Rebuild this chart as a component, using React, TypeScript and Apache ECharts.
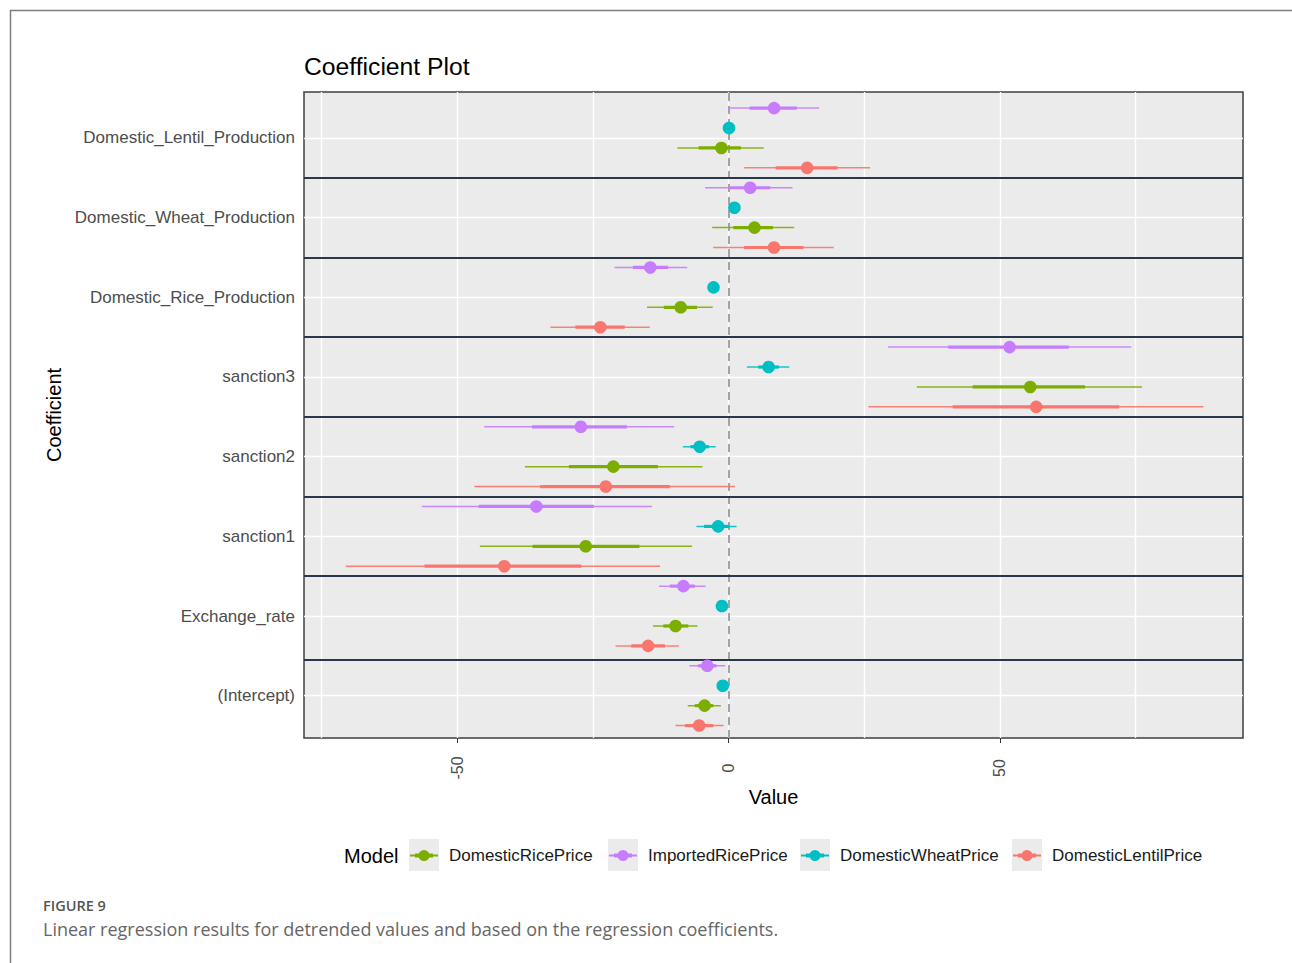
import React, { useEffect, useRef } from "react";
import * as echarts from "echarts";

// ---------- data ----------
const categories = [
  "(Intercept)",
  "Exchange_rate",
  "sanction1",
  "sanction2",
  "sanction3",
  "Domestic_Rice_Production",
  "Domestic_Wheat_Production",
  "Domestic_Lentil_Production",
];

const models = ["DomesticRicePrice", "ImportedRicePrice", "DomesticWheatPrice", "DomesticLentilPrice"];
const modelColors = ["#7CAE00", "#C77CFF", "#00BFC4", "#F8766D"];
const modelOffsets = [-0.125, 0.375, 0.125, -0.375];

// estimates, outer interval (thin), inner interval (thick) — order follows categories
const riceEst = [-4.4, -9.75, -26.3, -21.2, 55.6, -8.8, 4.8, -1.3];
const riceLo95 = [-7.5, -13.9, -45.8, -37.5, 34.7, -15.0, -3.0, -9.4];
const riceHi95 = [-1.4, -5.7, -6.7, -4.8, 76.2, -2.9, 12.1, 6.5];
const riceLo = [-6.2, -12.0, -36.1, -29.4, 45.0, -11.9, 0.9, -5.5];
const riceHi = [-2.8, -7.4, -16.4, -13.0, 65.7, -5.8, 8.2, 2.3];

const importedEst = [-3.9, -8.3, -35.4, -27.2, 51.8, -14.4, 4.0, 8.4];
const importedLo95 = [-7.2, -12.8, -56.5, -45.0, 29.4, -21.0, -4.3, -0.1];
const importedHi95 = [-0.6, -4.2, -14.1, -10.0, 74.2, -7.6, 11.8, 16.7];
const importedLo = [-5.6, -10.8, -46.0, -36.2, 40.5, -17.6, 0.2, 3.9];
const importedHi = [-2.2, -6.2, -24.8, -18.7, 62.7, -11.1, 7.7, 12.6];

const wheatEst = [-1.05, -1.2, -1.9, -5.3, 7.4, -2.75, 1.1, 0.1];
const wheatLo95 = [-1.6, -1.8, -5.9, -8.4, 3.4, -3.4, 0.2, -0.6];
const wheatHi95 = [-0.5, -0.6, 1.5, -2.35, 11.2, -2.1, 2.0, 0.8];
const wheatLo = [-1.3, -1.5, -4.5, -7.0, 5.5, -3.1, 0.6, -0.3];
const wheatHi = [-0.8, -0.9, 0.1, -3.6, 9.3, -2.4, 1.6, 0.5];

const lentilEst = [-5.4, -14.8, -41.3, -22.6, 56.7, -23.6, 8.4, 14.5];
const lentilLo95 = [-9.75, -20.8, -70.5, -46.8, 25.8, -32.8, -2.8, 2.9];
const lentilHi95 = [-0.9, -9.1, -12.6, 1.2, 87.5, -14.5, 19.4, 26.1];
const lentilLo = [-8.0, -17.9, -56.0, -34.7, 41.3, -28.2, 2.9, 8.7];
const lentilHi = [-2.8, -11.7, -27.1, -10.8, 72.0, -19.1, 13.8, 20.1];

const modelData = [
  [riceEst, riceLo95, riceHi95, riceLo, riceHi],
  [importedEst, importedLo95, importedHi95, importedLo, importedHi],
  [wheatEst, wheatLo95, wheatHi95, wheatLo, wheatHi],
  [lentilEst, lentilLo95, lentilHi95, lentilLo, lentilHi],
];

const xTicks = [-50, 0, 50];
const xGrid = [-75, -50, -25, 0, 25, 50, 75];
const separators = [7.5, 6.5, 5.5, 4.5, 3.5, 2.5, 1.45];

const xMin = -78.2;
const xMax = 94.8;
const yMin = 0.469;
const yMax = 8.577;

const FONT = "'Liberation Sans', Arial, sans-serif";
const CAPTION_FONT = "'Open Sans', Lato, sans-serif";

const legendLefts = [410, 609, 801, 1013];
const legendIcon =
  "path://M0,5.1h5v1.8h-5z M5,4h4v4h-4z M8.5,6a5.5,5.5 0 1,1 11,0a5.5,5.5 0 1,1 -11,0z M19,4h4v4h-4z M23,5.1h5v1.8h-5z";

export default function App() {
  const ref = useRef<HTMLDivElement>(null);

  useEffect(() => {
    if (!ref.current) return;
    const chart = echarts.init(ref.current, null, { renderer: "svg" });

    const catValues = categories.map((_, i) => i + 1);

    const modelSeries = models.map((name, m) => {
      const [est, lo95, hi95, lo, hi] = modelData[m];
      const color = modelColors[m];
      const off = modelOffsets[m];
      return {
        name,
        type: "custom",
        z: 5,
        itemStyle: { color },
        encode: { x: [1, 2, 3, 4, 5], y: 0 },
        data: categories.map((_, i) => [i + 1, lo95[i], hi95[i], lo[i], hi[i], est[i]]),
        renderItem: (params: any, api: any) => {
          const y = api.value(0) + off;
          const a = api.coord([api.value(1), y]);
          const b = api.coord([api.value(2), y]);
          const c = api.coord([api.value(3), y]);
          const d = api.coord([api.value(4), y]);
          const p = api.coord([api.value(5), y]);
          return {
            type: "group",
            children: [
              {
                type: "line",
                shape: { x1: a[0], y1: a[1], x2: b[0], y2: b[1] },
                style: { stroke: color, lineWidth: 1.5, opacity: 0.9 },
              },
              {
                type: "line",
                shape: { x1: c[0], y1: c[1], x2: d[0], y2: d[1] },
                style: { stroke: color, lineWidth: 3.2 },
              },
              {
                type: "circle",
                shape: { cx: p[0], cy: p[1], r: 6.3 },
                style: { fill: color },
              },
            ],
          };
        },
      };
    });

    const gridMarks: any[] = [];
    xGrid.forEach((v) =>
      gridMarks.push({ xAxis: v, lineStyle: { color: "#ffffff", width: 1.4, type: "solid" } })
    );
    catValues.forEach((v) =>
      gridMarks.push({ yAxis: v, lineStyle: { color: "#ffffff", width: 1.4, type: "solid" } })
    );
    gridMarks.push({ xAxis: 0, lineStyle: { color: "#a3a3a3", width: 2, type: [8, 5] } });
    separators.forEach((v) =>
      gridMarks.push({ yAxis: v, lineStyle: { color: "#2a3748", width: 2, type: "solid" } })
    );

    const legends = models.map((name, m) => ({
      show: true,
      left: legendLefts[m],
      top: 847,
      padding: 0,
      data: [name],
      icon: legendIcon,
      itemWidth: 28,
      itemHeight: 12,
      selectedMode: false,
      formatter: (n: string) => `{g|}${n}`,
      textStyle: {
        fontSize: 17,
        color: "#1a1a1a",
        fontFamily: FONT,
        rich: { g: { width: 6 } },
      },
    }));

    const graphics: any[] = [
      { type: "line", shape: { x1: 10, y1: 10.5, x2: 1292, y2: 10.5 }, style: { stroke: "#7d7d7d", lineWidth: 1.5 } },
      { type: "line", shape: { x1: 10.5, y1: 10, x2: 10.5, y2: 963 }, style: { stroke: "#7d7d7d", lineWidth: 1.5 } },
      {
        type: "text",
        x: 344,
        y: 856,
        style: { text: "Model", fontSize: 20, fill: "#000", fontFamily: FONT, verticalAlign: "middle" },
      },
      {
        type: "text",
        x: 43,
        y: 905,
        style: {
          text: "FIGURE 9",
          fontSize: 14.5,
          fontWeight: 600,
          fill: "#555",
          fontFamily: CAPTION_FONT,
          verticalAlign: "middle",
        },
      },
      {
        type: "text",
        x: 43,
        y: 929,
        style: {
          text: "Linear regression results for detrended values and based on the regression coefficients.",
          fontSize: 18,
          fill: "#666",
          fontFamily: CAPTION_FONT,
          verticalAlign: "middle",
        },
      },
    ];
    legendLefts.forEach((l) =>
      graphics.push({
        type: "rect",
        shape: { x: l + 14 - 15, y: 839, width: 30, height: 32 },
        style: { fill: "#EBEBEB" },
        z: -1,
      })
    );

    chart.setOption({
      animation: false,
      backgroundColor: "#ffffff",
      title: {
        text: "Coefficient Plot",
        left: 304,
        top: 54,
        padding: 0,
        textStyle: { fontSize: 24.7, fontWeight: "normal", color: "#000", fontFamily: FONT },
      },
      legend: legends,
      graphic: graphics,
      grid: {
        left: 304,
        top: 92,
        width: 939,
        height: 646,
        show: true,
        backgroundColor: "#EBEBEB",
        borderColor: "#3f3f3f",
        borderWidth: 1.5,
        containLabel: false,
      },
      xAxis: {
        type: "value",
        min: xMin,
        max: xMax,
        name: "Value",
        nameLocation: "middle",
        nameGap: 47,
        nameTextStyle: { fontSize: 20, color: "#000", fontFamily: FONT },
        axisLine: { show: false },
        splitLine: { show: false },
        axisTick: { show: true, customValues: xTicks, length: 5, lineStyle: { color: "#333" } },
        axisLabel: {
          customValues: xTicks,
          rotate: 90,
          align: "center",
          verticalAlign: "middle",
          margin: 30,
          fontSize: 16,
          color: "#4D4D4D",
          fontFamily: FONT,
        },
      },
      yAxis: {
        type: "value",
        min: yMin,
        max: yMax,
        name: "Coefficient",
        nameLocation: "middle",
        nameGap: 232,
        nameTextStyle: { fontSize: 20, color: "#000", fontFamily: FONT },
        axisLine: { show: false },
        splitLine: { show: false },
        axisTick: { show: true, customValues: catValues, length: 5, lineStyle: { color: "#333" } },
        axisLabel: {
          customValues: catValues,
          margin: 9,
          fontSize: 17,
          color: "#4D4D4D",
          fontFamily: FONT,
          formatter: (v: number) => categories[Math.round(v) - 1] ?? "",
        },
      },
      series: [
        {
          name: "_grid",
          type: "line",
          data: [],
          z: 1,
          silent: true,
          markLine: {
            silent: true,
            symbol: ["none", "none"],
            label: { show: false },
            emphasis: { disabled: true },
            animation: false,
            data: gridMarks,
          },
        },
        ...modelSeries,
      ],
    });

    return () => chart.dispose();
  }, []);

  return (
    <div
      ref={ref}
      style={{ position: "fixed", left: 0, top: 0, width: 1292, height: 963 }}
    />
  );
}
